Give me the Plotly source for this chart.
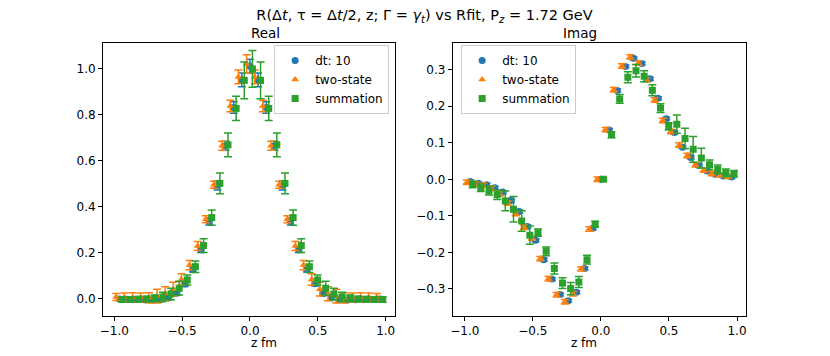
# R ratio vs fit: real and imaginary parts
import plotly.graph_objects as go
from plotly.subplots import make_subplots

z = [-0.96, -0.90, -0.84, -0.78, -0.72, -0.66, -0.60, -0.54, -0.48, -0.42, -0.36,
     -0.30, -0.24, -0.18, -0.12, -0.06, 0.00, 0.06, 0.12, 0.18, 0.24, 0.30, 0.36,
     0.42, 0.48, 0.54, 0.60, 0.66, 0.72, 0.78, 0.84, 0.90, 0.96]

# Real part
re_dt = [-0.003, -0.004, -0.005, -0.006, -0.007, -0.006, 0.002, 0.022, 0.062, 0.125, 0.212,
         0.335, 0.492, 0.665, 0.832, 0.952, 1.012, 0.952, 0.832, 0.665, 0.492, 0.335, 0.212,
         0.125, 0.064, 0.020, 0.002, -0.006, -0.007, -0.006, -0.005, -0.004, -0.003]
re_dt_err = [0.008, 0.008, 0.008, 0.008, 0.008, 0.008, 0.008, 0.008, 0.010, 0.010, 0.012,
             0.015, 0.020, 0.020, 0.025, 0.030, 0.030, 0.030, 0.025, 0.020, 0.020, 0.015, 0.012,
             0.010, 0.010, 0.008, 0.008, 0.008, 0.008, 0.008, 0.008, 0.008, 0.008]
re_ts = [0.006, 0.005, 0.004, 0.003, 0.002, 0.010, 0.020, 0.040, 0.082, 0.145, 0.228,
         0.345, 0.495, 0.665, 0.838, 0.965, 1.022, 0.965, 0.838, 0.665, 0.495, 0.345, 0.228,
         0.145, 0.082, 0.040, 0.020, 0.010, 0.002, 0.003, 0.004, 0.005, 0.006]
re_ts_err = [0.015, 0.018, 0.020, 0.020, 0.022, 0.030, 0.030, 0.030, 0.025, 0.020, 0.020,
             0.015, 0.015, 0.020, 0.025, 0.030, 0.040, 0.030, 0.025, 0.020, 0.015, 0.015, 0.020,
             0.020, 0.025, 0.030, 0.030, 0.030, 0.022, 0.020, 0.020, 0.018, 0.015]
re_sum = [-0.005, -0.005, -0.004, -0.003, 0.000, 0.006, 0.019, 0.044, 0.080, 0.138, 0.230,
          0.352, 0.501, 0.669, 0.828, 0.950, 1.000, 0.950, 0.828, 0.669, 0.501, 0.352, 0.230,
          0.138, 0.080, 0.044, 0.019, 0.006, 0.000, -0.003, -0.004, -0.005, -0.005]
re_sum_err = [0.012, 0.012, 0.012, 0.012, 0.015, 0.020, 0.025, 0.030, 0.022, 0.025, 0.030,
              0.033, 0.045, 0.052, 0.053, 0.080, 0.080, 0.080, 0.053, 0.052, 0.045, 0.033, 0.030,
              0.025, 0.022, 0.030, 0.025, 0.020, 0.015, 0.012, 0.012, 0.012, 0.012]

# Imaginary part
im_dt = [-0.006, -0.011, -0.015, -0.023, -0.035, -0.058, -0.088, -0.129, -0.167, -0.220, -0.273,
         -0.315, -0.332, -0.309, -0.244, -0.134, 0.000, 0.135, 0.243, 0.309, 0.331, 0.317, 0.275,
         0.222, 0.166, 0.128, 0.088, 0.060, 0.038, 0.023, 0.014, 0.009, 0.006]
im_dt_err = [0.004] * 33
im_ts = [-0.008, -0.012, -0.016, -0.025, -0.040, -0.065, -0.094, -0.131, -0.161, -0.217, -0.272,
         -0.316, -0.335, -0.313, -0.245, -0.136, 0.000, 0.136, 0.245, 0.310, 0.335, 0.318, 0.272,
         0.217, 0.161, 0.131, 0.094, 0.065, 0.040, 0.025, 0.016, 0.012, 0.008]
im_ts_err = [0.006] * 33
im_sum = [-0.014, -0.023, -0.031, -0.042, -0.059, -0.082, -0.114, -0.153, -0.146, -0.197, -0.244,
          -0.284, -0.299, -0.281, -0.220, -0.123, 0.000, 0.122, 0.220, 0.279, 0.297, 0.282, 0.244,
          0.195, 0.145, 0.151, 0.112, 0.082, 0.058, 0.040, 0.027, 0.018, 0.015]
im_sum_err = [0.009, 0.010, 0.012, 0.013, 0.027, 0.035, 0.028, 0.025, 0.010, 0.012, 0.015,
              0.015, 0.017, 0.015, 0.012, 0.008, 0.003, 0.008, 0.012, 0.015, 0.017, 0.015, 0.015,
              0.012, 0.010, 0.025, 0.028, 0.035, 0.027, 0.013, 0.012, 0.010, 0.009]

series = [
    ("dt: 10", "#1f77b4", "circle", 0.0, re_dt, re_dt_err, im_dt, im_dt_err),
    ("two-state", "#ff7f0e", "triangle-up", -0.025, re_ts, re_ts_err, im_ts, im_ts_err),
    ("summation", "#2ca02c", "square", 0.018, re_sum, re_sum_err, im_sum, im_sum_err),
]

fig = make_subplots(rows=1, cols=2, horizontal_spacing=0.09)
fig.update_xaxes(domain=[0, 0.454], row=1, col=1)
fig.update_xaxes(domain=[0.544, 1], row=1, col=2)

for name, color, sym, shift, re, re_err, im, im_err in series:
    xs = [v + shift for v in z]
    for col, ys, errs, leg in [(1, re, re_err, "legend"), (2, im, im_err, "legend2")]:
        fig.add_trace(go.Scatter(
            x=xs, y=ys, mode="markers", name=name, legend=leg,
            marker=dict(color=color, symbol=sym, size=7),
            error_y=dict(type="data", array=errs, color=color, thickness=1.5, width=4),
        ), row=1, col=col)

font = dict(family="DejaVu Sans", size=12, color="black")
axis_style = dict(showline=True, linecolor="black", linewidth=1, mirror=True,
                  ticks="outside", ticklen=4, tickcolor="black", showgrid=False,
                  zeroline=False, automargin=False, tickfont=dict(family="DejaVu Sans", size=12))

fig.update_xaxes(axis_style)
fig.update_yaxes(axis_style)
fig.update_xaxes(range=[-1.083, 1.068], tickvals=[-1.0, -0.5, 0.0, 0.5, 1.0],
                 ticktext=["\u22121.0", "\u22120.5", "0.0", "0.5", "1.0"], row=1, col=1)
fig.update_xaxes(range=[-1.088, 1.066], tickvals=[-1.0, -0.5, 0.0, 0.5, 1.0],
                 ticktext=["\u22121.0", "\u22120.5", "0.0", "0.5", "1.0"], row=1, col=2)
fig.update_yaxes(range=[-0.077, 1.113], tickvals=[0, 0.2, 0.4, 0.6, 0.8, 1.0],
                 tickformat=".1f", row=1, col=1)
fig.update_yaxes(range=[-0.374, 0.373], tickvals=[-0.3, -0.2, -0.1, 0, 0.1, 0.2, 0.3],
                 ticktext=["\u22120.3", "\u22120.2", "\u22120.1", "0.0", "0.1", "0.2", "0.3"],
                 row=1, col=2)

legend_style = dict(bgcolor="rgba(255,255,255,0.8)", bordercolor="#cccccc", borderwidth=1,
                    font=dict(family="DejaVu Sans", size=12), yanchor="top", y=0.993,
                    tracegroupgap=0, itemwidth=30)

txt = dict(xref="paper", yref="paper", showarrow=False)
fig.update_layout(
    width=830, height=356,
    margin=dict(l=103, r=84, t=43, b=40),
    plot_bgcolor="white", paper_bgcolor="white",
    font=font,
    showlegend=True,
    legend=dict(legend_style, x=0.445, xanchor="right"),
    legend2=dict(legend_style, x=0.557, xanchor="left"),
    title=dict(text="R(\u0394<i>t</i>, \u03c4 = \u0394<i>t</i>/2, z; \u0393 = <i>\u03b3</i><sub><i>t</i></sub>) vs Rfit, P<sub><i>z</i></sub> = 1.72 GeV",
               x=0.5, xref="paper", yref="container", y=0.957, yanchor="middle",
               font=dict(family="DejaVu Sans", size=14.5)),
    annotations=[
        dict(txt, text="Real", x=0.227, y=1.0, yanchor="bottom",
             font=dict(family="DejaVu Sans", size=13.5)),
        dict(txt, text="Imag", x=0.772, y=1.0, yanchor="bottom",
             font=dict(family="DejaVu Sans", size=13.5)),
        dict(txt, text="z fm", x=0.227, y=0, yanchor="middle", yshift=-27,
             font=dict(family="DejaVu Sans", size=12)),
        dict(txt, text="z fm", x=0.772, y=0, yanchor="middle", yshift=-27,
             font=dict(family="DejaVu Sans", size=12)),
    ],
)

# page body has a default 8px margin; drop it so the figure fills the window
fig.write_html("out.html", config={"displayModeBar": False},
               post_script="document.body.style.margin = '0';")
